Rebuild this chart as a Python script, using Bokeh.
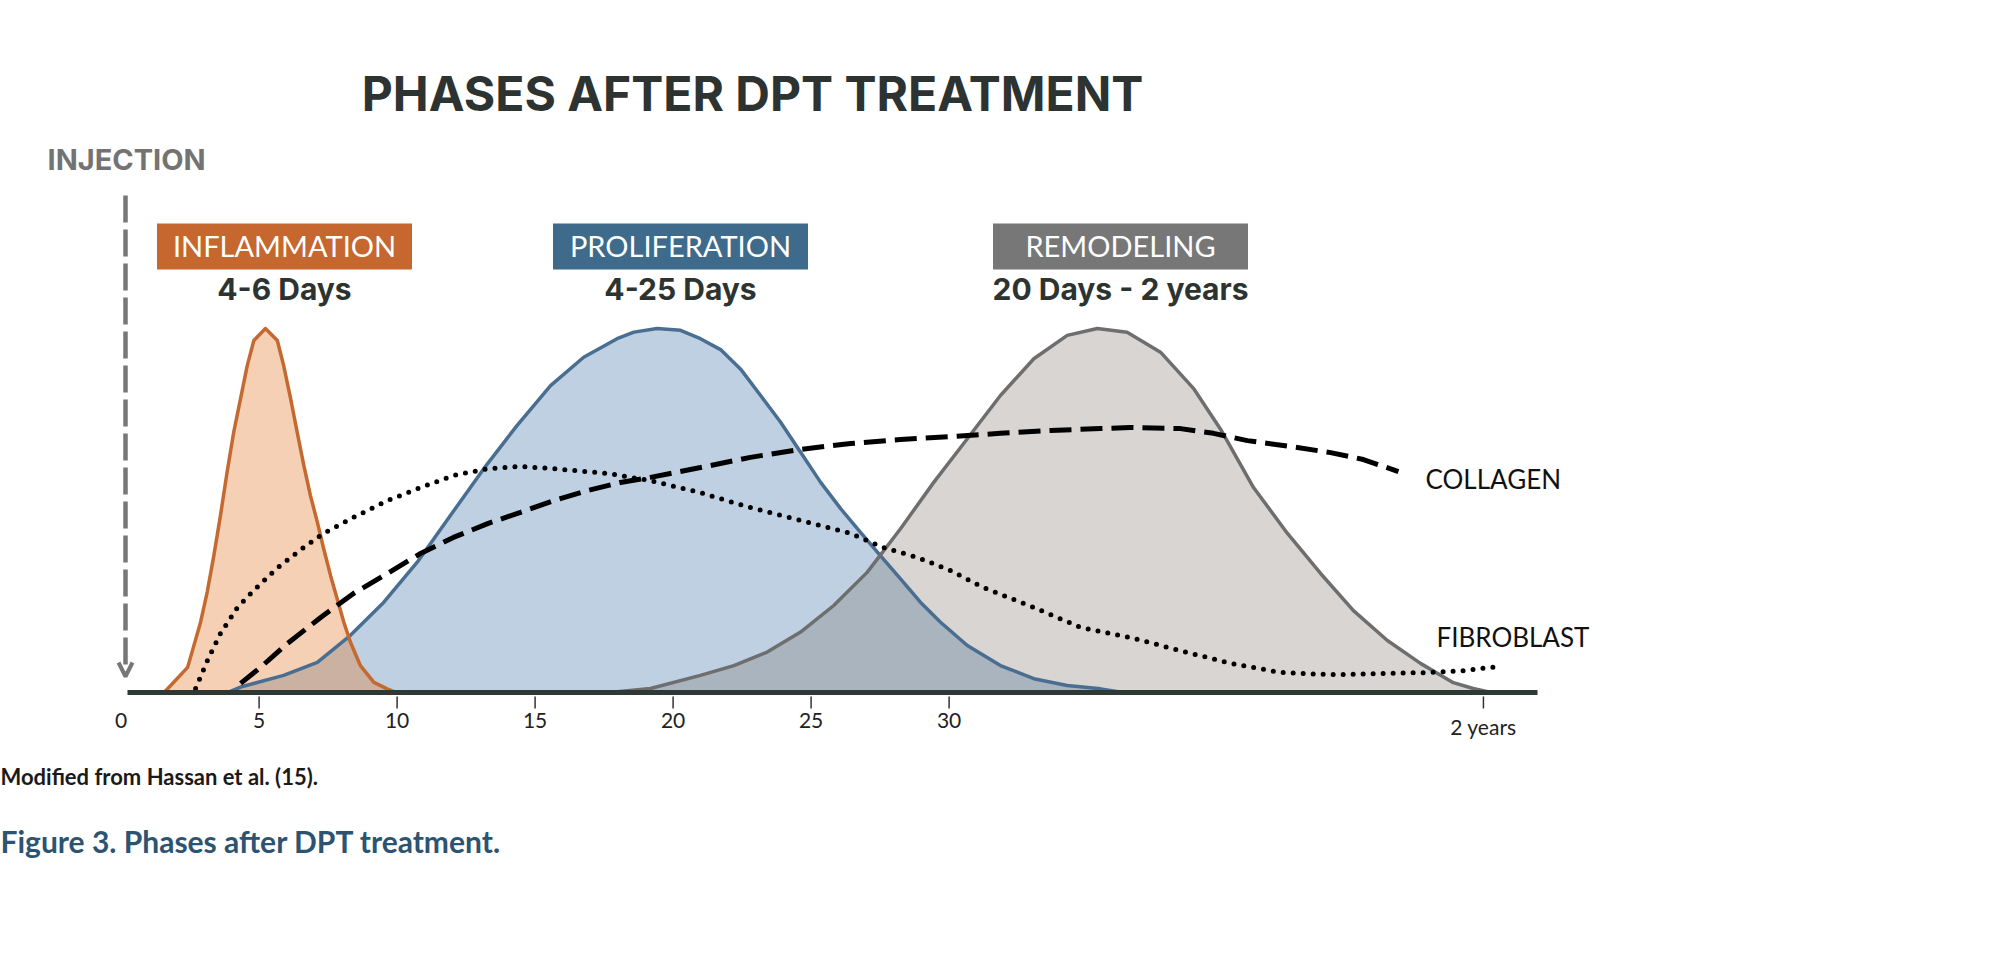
from bokeh.plotting import figure
from bokeh.models import Range1d, Arrow, OpenHead
from bokeh.core.properties import value
from bokeh.embed import file_html
from bokeh.resources import INLINE

# ---------------- data ----------------
# x: days on the drawn (compressed) time axis, y: relative intensity (% of peak)
inflam_x = [1.56, 2.41, 2.88, 3.12, 3.36, 3.60, 3.84, 4.08, 4.33, 4.57, 4.81, 5.23,
            5.66, 5.89, 6.14, 6.38, 6.62, 6.86, 7.11, 7.34, 7.59, 7.83, 8.07, 8.31,
            8.67, 9.16, 9.64, 9.97]
inflam_y = [0, 6.9, 19.3, 27.6, 37.6, 48.6, 60.5, 71.5, 80.8, 89.8, 96.7, 100,
            96.7, 89.8, 80.8, 71.5, 62.4, 54.1, 46.8, 39.5, 32.1, 25.7, 19.3, 13.8,
            7.4, 2.8, 1.0, 0]

prolif_x = [3.85, 4.33, 5.89, 7.11, 8.31, 9.52, 10.73, 11.93, 13.14, 14.35, 15.56, 16.76,
            17.97, 18.58, 19.42, 20.27, 20.99, 21.72, 22.44, 23.17, 23.89, 24.62, 25.34,
            26.07, 26.79, 27.51, 28.24, 28.96, 29.69, 30.66, 31.86, 33.07, 34.28, 35.49,
            36.30]
prolif_y = [0, 1.5, 4.7, 8.3, 15.7, 24.8, 35.8, 48.6, 61.5, 73.4, 84.3, 92.1,
            97.2, 99.0, 100, 99.5, 97.2, 94.2, 88.9, 81.6, 74.3, 66.0, 57.8,
            50.5, 44.0, 37.6, 31.2, 24.8, 19.3, 12.9, 7.4, 3.8, 1.9, 1.0,
            0]

remod_x = [17.70, 19.18, 20.99, 22.20, 23.41, 24.62, 25.82, 27.03, 28.24, 29.45, 30.66,
           31.86, 33.07, 34.28, 35.37, 36.45, 37.66, 38.87, 39.83, 41.03, 42.26, 43.46,
           44.65, 45.88, 47.08, 48.27, 48.99, 49.63]
remod_y = [0, 1.1, 4.7, 7.4, 11.1, 16.6, 23.9, 33.0, 45.0, 57.8, 69.7,
           81.6, 91.7, 98.1, 100, 99.0, 93.5, 83.4, 72.4, 56.3, 43.7, 32.7,
           22.5, 14.3, 8.0, 2.7, 1.1, 0]

collagen_x = [4.33, 5.05, 6.03, 7.23, 8.42, 9.65, 10.85, 12.04, 13.28, 14.47, 15.67, 16.90,
              18.09, 19.18, 20.99, 22.80, 24.62, 26.43, 28.24, 30.05, 31.86, 33.67, 35.49,
              36.57, 38.38, 39.58, 40.81, 42.62, 43.82, 45.01, 46.28]
collagen_y = [2.5, 6.9, 13.5, 20.6, 27.2, 32.7, 38.2, 42.6, 46.4, 49.5, 52.7, 55.5,
              57.7, 59.1, 61.8, 64.6, 66.8, 68.4, 69.5, 70.3, 71.2, 72.0, 72.5,
              72.8, 72.5, 71.2, 69.2, 67.3, 65.9, 64.0, 60.7]

fibro_x = [2.70, 3.13, 3.60, 4.22, 4.80, 5.67, 6.61, 7.33, 8.42, 9.65, 10.85, 12.04,
           13.28, 14.47, 15.67, 17.62, 19.18, 20.99, 22.80, 24.62, 26.43, 27.62, 28.86,
           30.05, 31.25, 33.06, 34.76, 36.57, 38.38, 40.20, 42.01, 43.82, 45.63, 47.44,
           48.64, 49.87]
fibro_y = [1.1, 8.8, 16.2, 23.4, 28.0, 34.3, 39.8, 43.7, 48.1, 52.7, 56.3, 59.6,
           61.5, 62.1, 61.5, 60.2, 58.2, 54.9, 50.8, 47.3, 43.7, 39.8, 37.1,
           33.5, 28.8, 23.4, 17.9, 15.1, 11.5, 8.0, 5.5, 4.9, 5.2, 5.5,
           6.0, 7.1]

tick_values = [0, 5, 10, 15, 20, 25, 30, 49.36]
tick_labels = ["0", "5", "10", "15", "20", "25", "30", "2 years"]

phase_names = ["INFLAMMATION", "PROLIFERATION", "REMODELING"]
phase_ranges = ["4-6 Days", "4-25 Days", "20 Days - 2 years"]
phase_colors = ["#c6672f", "#3e6a8c", "#777777"]

# ---------------- layout (pixel geometry of the page) ----------------
W, H = 2000, 953
PX0, KX = 120.6, 27.6      # pixel x of day 0, pixels per day
PY0, KY = 692.0, 3.64      # pixel y (from top) of baseline, pixels per % unit
BASE_FIX = 0.4             # em correction so that text sits on the wanted baseline


def X(px):
    return (px - PX0) / KX


def Y(py):
    return (PY0 - py) / KY


def YB(py, size):
    """data y for a text baseline at pixel py for a font of `size` px"""
    return Y(py - BASE_FIX * size)


p = figure(width=W, height=H,
           x_range=Range1d(X(0), X(W)), y_range=Range1d(Y(H), Y(0)),
           output_backend="svg", toolbar_location=None,
           x_axis_location=None, y_axis_location=None,
           min_border=0, outline_line_color=None,
           background_fill_color="white", border_fill_color="white")
p.grid.visible = False

# ---------------- phase bells ----------------
p.patch(prolif_x, prolif_y, fill_color="#4678aa", fill_alpha=0.35, line_color=None)
p.patch(inflam_x, inflam_y, fill_color="#e1782a", fill_alpha=0.35, line_color=None)
p.patch(remod_x, remod_y, fill_color="#7e756e", fill_alpha=0.30, line_color=None)

p.line(prolif_x, prolif_y, line_color="#4a6e91", line_width=3.5, line_join="round")
p.line(inflam_x, inflam_y, line_color="#c4692f", line_width=3.5, line_join="round")
p.line(remod_x, remod_y, line_color="#6e6e6e", line_width=3.5, line_join="round")

# ---------------- collagen / fibroblast ----------------
p.line(collagen_x, collagen_y, line_color="black", line_width=5, line_dash="22 9")
p.line(fibro_x, fibro_y, line_color="black", line_width=5, line_dash="0 10",
       line_cap="round")

# ---------------- time axis ----------------
p.segment(x0=[X(127)], y0=[0], x1=[X(1537)], y1=[0], line_color="#2e3835", line_width=5)
tv = tick_values[1:]
p.segment(x0=tv, y0=[Y(696)] * len(tv), x1=tv, y1=[Y(708)] * len(tv),
          line_color="#333333", line_width=1.5)
label_y = [YB(728, 21)] * (len(tick_values) - 1) + [YB(734, 21)]
p.text(x=tick_values, y=label_y, text=tick_labels, text_font=value("Lato"),
       text_font_size="21px", text_color="#222222", text_align="center",
       text_baseline="alphabetic")

# ---------------- injection arrow ----------------
p.add_layout(Arrow(end=OpenHead(size=14, line_width=4, line_color="#777777"),
                   x_start=X(125), y_start=Y(195), x_end=X(125), y_end=Y(676),
                   line_color="#777777", line_width=4.5, line_dash="27 7"))
p.text(x=[X(47)], y=[YB(171, 29)], text=["INJECTION"], text_font=value("Inter"),
       text_font_style="bold", text_font_size="29px", text_color="#737373",
       text_align="left", text_baseline="alphabetic")

# ---------------- title ----------------
p.text(x=[X(752)], y=[YB(112, 48)], text=["PHASES AFTER DPT TREATMENT"],
       text_font=value("Inter"), text_font_style="bold", text_font_size="48px",
       text_color="#2d3331", text_align="center", text_baseline="alphabetic")

# ---------------- phase boxes ----------------
box_cx = [284, 680, 1120]
p.quad(left=[X(c - 127.5) for c in box_cx], right=[X(c + 127.5) for c in box_cx],
       top=[Y(223)] * 3, bottom=[Y(269)] * 3, fill_color=phase_colors, line_color=None)
p.text(x=[X(c) for c in box_cx], y=[YB(257, 29)] * 3, text=phase_names,
       text_font=value("Lato"), text_font_size="29px", text_color="white",
       text_align="center", text_baseline="alphabetic")
p.text(x=[X(c) for c in box_cx], y=[YB(300, 30)] * 3, text=phase_ranges,
       text_font=value("Inter"), text_font_style="bold", text_font_size="30px",
       text_color="#2d3331", text_align="center", text_baseline="alphabetic")

# ---------------- curve labels ----------------
p.text(x=[X(1425), X(1436)], y=[YB(489, 26), YB(647, 26)], text=["COLLAGEN", "FIBROBLAST"],
       text_font=value("Lato"), text_font_size="26px", text_color="#111111",
       text_align="left", text_baseline="alphabetic")

# ---------------- footer ----------------
p.text(x=[X(0)], y=[YB(785, 22)], text=["Modified from Hassan et al. (15)."],
       text_font=value("Lato"), text_font_style="bold", text_font_size="22px",
       text_color="#1a1a1a", text_align="left", text_baseline="alphabetic")
p.text(x=[X(0)], y=[YB(852, 30)], text=["Figure 3. Phases after DPT treatment."],
       text_font=value("Lato"), text_font_style="bold", text_font_size="30px",
       text_color="#2c5472", text_align="left", text_baseline="alphabetic")

open("out.html", "w").write(file_html(p, INLINE))
